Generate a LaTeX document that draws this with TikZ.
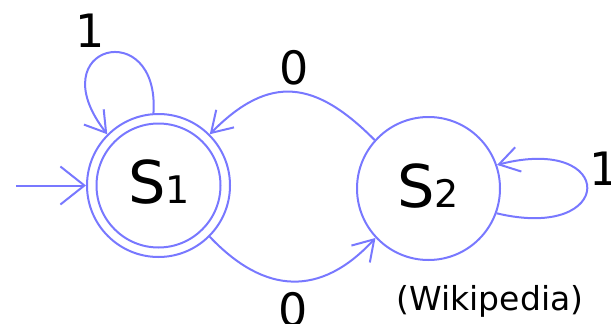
\documentclass[tikz,border=0pt]{standalone}
\usepackage{fontspec}
\setmainfont{DejaVu Sans}
\usetikzlibrary{arrows.meta}
\definecolor{edgeblue}{RGB}{120,120,255}
\tikzset{
  x=1pt, y=-1pt,
  st/.style={circle, draw=edgeblue, line width=2pt, minimum size=143pt, inner sep=0pt},
  edge/.style={draw=edgeblue, line width=2pt, -{Straight Barb[length=20pt, width=25pt]}},
  lbl/.style={anchor=base, font=\fontsize{46}{46}\selectfont, inner sep=0pt},
  sname/.style={anchor=base, font=\fontsize{59}{59}\selectfont, inner sep=0pt},
}
\newcommand{\subdig}[1]{{\fontsize{38}{38}\selectfont #1}}
\begin{document}
\begin{tikzpicture}
\useasboundingbox (0,0) rectangle (611,324);
\node[st] (s1) at (158.5,185.5) {};
\draw[edgeblue, line width=2pt] (s1.center) circle[radius=62pt];
\node[st] (s2) at (428.5,188.5) {};
\node[sname] (t1) at (159,203) {S\subdig{1}};
\node[sname] (t2) at (428,207) {S\subdig{2}};
\coordinate (init) at (16,185.5);
\draw[draw=edgeblue, line width=2pt, -{Straight Barb[length=24pt, width=38pt]}] (init) -- (s1.west);
\draw[edge] (s1.94) .. controls (160,15) and (38,45) .. (s1.135);
\draw[edge] (s2.138) .. controls (316,81) and (270,73) .. (s1.45);
\draw[edge] (s1.-45) .. controls (265,295) and (321,297) .. (s2.-137);
\draw[edge] (s2.-20) .. controls (617,242) and (617,134) .. (s2.19);
\node[lbl] (l1) at (90.5,47) {1};
\node[lbl] (l2) at (294.5,84) {0};
\node[lbl] (l3) at (293,326) {0};
\node[lbl] (l4) at (604,185) {1};
\node[anchor=base, font=\fontsize{33}{33}\selectfont, inner sep=0pt] (w) at (490,310) {(Wikipedia)};
\end{tikzpicture}
\end{document}
